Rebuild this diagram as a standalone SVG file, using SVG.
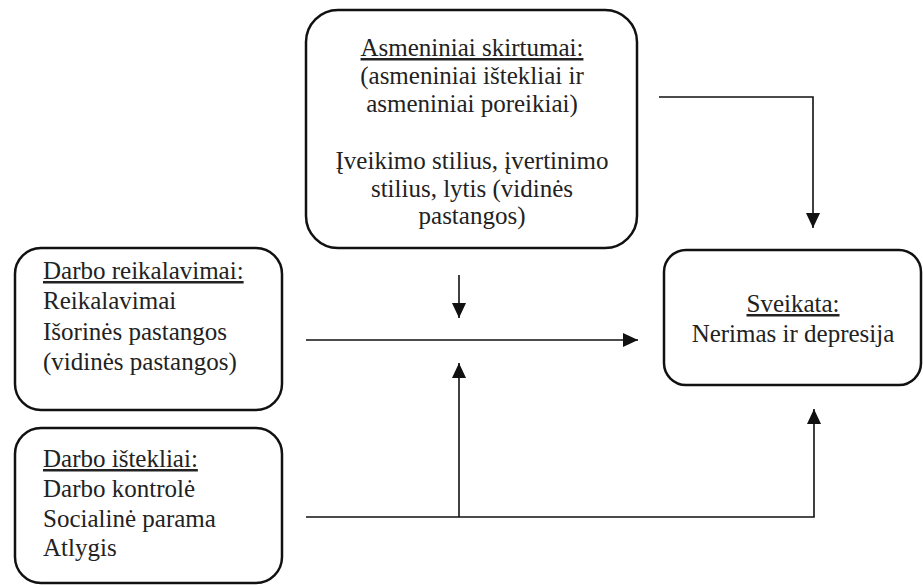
<svg xmlns="http://www.w3.org/2000/svg" width="923" height="585" viewBox="0 0 923 585">
<style>
.box{fill:#fff;stroke:#111;stroke-width:2.5}
.t{font-family:"Liberation Serif","Times New Roman",serif;font-size:25px;fill:#222}
.c{text-anchor:middle}
.u{text-decoration:underline}
.ln{fill:none;stroke:#111;stroke-width:1.6}
</style>
<defs>
<marker id="ah" markerUnits="userSpaceOnUse" markerWidth="16" markerHeight="14" refX="15" refY="7" orient="auto">
<path d="M0,0 L15,7 L0,14 Z" fill="#111"/>
</marker>
</defs>
<rect width="923" height="585" fill="#fff"/>
<g id="asmeniniai">
<rect class="box" x="306" y="10" width="331" height="238" rx="32"/>
<text class="t c" x="472" y="56"><tspan class="u">Asmeniniai skirtumai:</tspan></text>
<text class="t c" x="472" y="84">(asmeniniai ištekliai ir</text>
<text class="t c" x="472" y="112">asmeniniai poreikiai)</text>
<text class="t c" x="472" y="169">Įveikimo stilius, įvertinimo</text>
<text class="t c" x="472" y="197">stilius, lytis (vidinės</text>
<text class="t c" x="472" y="224">pastangos)</text>
</g>
<g id="reikalavimai">
<rect class="box" x="15" y="248" width="267" height="162" rx="26"/>
<text class="t" x="43" y="279"><tspan class="u">Darbo reikalavimai:</tspan></text>
<text class="t" x="43" y="309">Reikalavimai</text>
<text class="t" x="43" y="340">Išorinės pastangos</text>
<text class="t" x="43" y="370">(vidinės pastangos)</text>
</g>
<g id="istekliai">
<rect class="box" x="15" y="428" width="267" height="155" rx="26"/>
<text class="t" x="43" y="467"><tspan class="u">Darbo ištekliai:</tspan></text>
<text class="t" x="43" y="497">Darbo kontrolė</text>
<text class="t" x="43" y="527">Socialinė parama</text>
<text class="t" x="43" y="556">Atlygis</text>
</g>
<g id="sveikata">
<rect class="box" x="664" y="250" width="257" height="135" rx="22"/>
<text class="t c" x="793" y="312"><tspan class="u">Sveikata:</tspan></text>
<text class="t c" x="793" y="342">Nerimas ir depresija</text>
</g>
<g id="connectors">
<path class="ln" d="M659,97 H813 V228" marker-end="url(#ah)"/>
<path class="ln" d="M459,275 V318" marker-end="url(#ah)"/>
<path class="ln" d="M306,340 H638" marker-end="url(#ah)"/>
<path class="ln" d="M459,517 V363" marker-end="url(#ah)"/>
<path class="ln" d="M306,517 H814 V409" marker-end="url(#ah)"/>
</g>
</svg>
